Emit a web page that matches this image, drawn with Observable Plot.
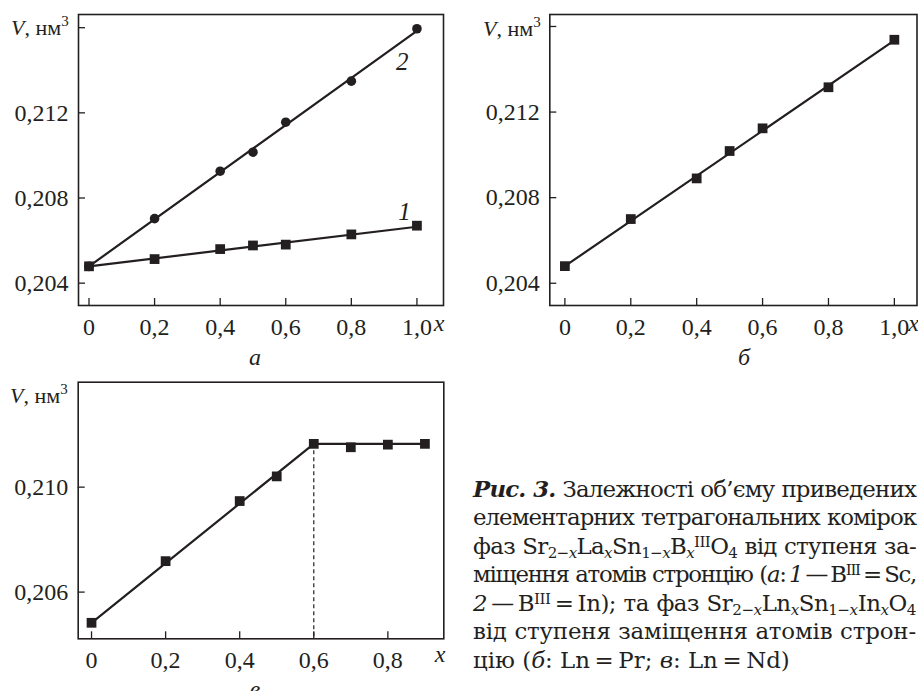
<!DOCTYPE html>
<html><head><meta charset="utf-8">
<script src="https://cdn.jsdelivr.net/npm/d3@7"></script>
<script src="https://cdn.jsdelivr.net/npm/@observablehq/plot@0.6"></script>
<style>
body{margin:0;background:#fff;}
#root{position:relative;width:918px;height:691px;overflow:hidden;font-family:"Liberation Serif",serif;color:#231f20;}
#root svg, #root svg text{font-family:"Liberation Serif",serif !important;}
.panel{position:absolute;}
.lbl{position:absolute;font-size:22px;white-space:nowrap;line-height:22px;}
.lbl sup{font-size:15px;line-height:0;vertical-align:0;position:relative;top:-9px;}
.plet{position:absolute;font-size:24px;font-style:italic;line-height:24px;transform:translateX(-50%);}
.xl{position:absolute;font-size:24px;font-style:italic;line-height:24px;transform:translateX(-50%);}
#cap{position:absolute;left:473px;width:443px;font-family:"DejaVu Serif",serif;line-height:28.55px;}
#cap div{white-space:nowrap;}
#cap.just div{text-align:justify;text-align-last:justify;}
#cap.just div.last{text-align-last:left;}
#cap sub,#cap sup{font-size:0.66em;line-height:0;position:relative;vertical-align:0;}
#cap sub{top:0.28em;}
#cap sup{top:-0.45em;}
</style></head>
<body><div id="root"></div>
<script>
// ---- data: panel а ----
const xA = [0, 0.2, 0.4, 0.5, 0.6, 0.8, 1.0];
const vA1 = [0.20479, 0.20513, 0.20560, 0.20577, 0.20581, 0.20629, 0.20670];
const vA2 = [0.20479, 0.20703, 0.20926, 0.21015, 0.21156, 0.21349, 0.21595];
const fitXA = [0, 1.0];
const fitA1 = [0.20479, 0.20665];
const fitA2 = [0.20479, 0.21585];
const curveLabels = ["1", "2"];
const curveLabelX = [0.962, 0.955];
const curveLabelV = [0.20732, 0.21437];
// ---- data: panel б ----
const xB = [0, 0.2, 0.4, 0.5, 0.6, 0.8, 1.0];
const vB = [0.20480, 0.20700, 0.20890, 0.21018, 0.21124, 0.21316, 0.21538];
const fitXB = [0, 1.0];
const fitB = [0.20480, 0.21535];
// ---- data: panel в ----
const xC = [0, 0.2, 0.4, 0.5, 0.6, 0.7, 0.8, 0.9];
const vC = [0.20483, 0.20718, 0.20947, 0.21041, 0.21165, 0.21152, 0.21162, 0.21165];
const fitXC = [0, 0.6, 0.9];
const fitC = [0.20483, 0.21165, 0.21165];
const breakX = [0.6];
const breakV = [0.21165];
// ---- ticks ----
const xTicksAB = [0, 0.2, 0.4, 0.6, 0.8, 1.0];
const xTicksC = [0, 0.2, 0.4, 0.6, 0.8];
const yTickMarksAB = [0.204, 0.208, 0.212, 0.216];
const yTickLabelsAB = [0.204, 0.208, 0.212];
const yTicksC = [0.206, 0.210];

const INK = "#231f20";
const FONT = "Liberation Serif";
const fmtX = d => d === 0 ? "0" : d.toFixed(1).replace(".", ",");
const fmtY = d => d.toFixed(3).replace(".", ",");
const pts = (xs, vs) => xs.map((x, i) => ({x, v: vs[i]}));

function panel({width, height, mt, mr, mb, ml, xDom, yDom, xTicks, yMarks, yLabels, marks}) {
  const fw = width - ml - mr, fh = height - mt - mb;
  return Plot.plot({
    width, height, marginTop: mt, marginRight: mr, marginBottom: mb, marginLeft: ml,
    x: {domain: xDom, label: null}, y: {domain: yDom, label: null},
    style: {fontFamily: FONT, fontSize: "24px", color: INK, background: "transparent", overflow: "visible"},
    marks: [
      Plot.tickY(yMarks, {y: d => d, stroke: INK, strokeWidth: 1.3, insetRight: fw - 7}),
      Plot.tickX(xTicks, {x: d => d, stroke: INK, strokeWidth: 1.3, insetTop: fh - 7}),
      Plot.axisY({ticks: yLabels, tickSize: 0, tickPadding: 10, tickFormat: fmtY, fontSize: 24, fontFamily: FONT, label: null}),
      Plot.axisX({ticks: xTicks, tickSize: 0, tickPadding: 12, tickFormat: fmtX, fontSize: 24, fontFamily: FONT, label: null}),
      ...marks,
      Plot.frame({stroke: INK, strokeWidth: 1.6})
    ]
  });
}

const root = document.getElementById("root");
function place(svg, left, top) {
  svg.classList.add("panel");
  svg.style.left = left + "px";
  svg.style.top = top + "px";
  root.appendChild(svg);
}

// panel а
place(panel({
  width: 460, height: 370, mt: 14, mr: 17, mb: 65, ml: 78,
  xDom: [-0.032, 1.081], yDom: [0.20295, 0.21662],
  xTicks: xTicksAB, yMarks: yTickMarksAB, yLabels: yTickLabelsAB,
  marks: [
    Plot.line(pts(fitXA, fitA1), {x: "x", y: "v", stroke: INK, strokeWidth: 2.2}),
    Plot.line(pts(fitXA, fitA2), {x: "x", y: "v", stroke: INK, strokeWidth: 2.2}),
    Plot.dot(pts(xA, vA1), {x: "x", y: "v", symbol: "square", r: 5.5, fill: INK, stroke: "none"}),
    Plot.dot(pts(xA, vA2), {x: "x", y: "v", symbol: "circle", r: 4.8, fill: INK, stroke: "none"}),
    Plot.text(curveLabels.map((t, i) => ({t, x: curveLabelX[i], v: curveLabelV[i]})),
      {x: "x", y: "v", text: "t", fontStyle: "italic", fontSize: 25, fontFamily: FONT, fill: INK})
  ]
}), 0, 0);

// panel б
place(panel({
  width: 458, height: 370, mt: 14, mr: 1.5, mb: 65, ml: 89.3,
  xDom: [-0.0458, 1.0687], yDom: [0.20296, 0.21656],
  xTicks: xTicksAB, yMarks: yTickMarksAB, yLabels: yTickLabelsAB,
  marks: [
    Plot.line(pts(fitXB, fitB), {x: "x", y: "v", stroke: INK, strokeWidth: 2.2}),
    Plot.dot(pts(xB, vB), {x: "x", y: "v", symbol: "square", r: 5.5, fill: INK, stroke: "none"})
  ]
}), 460, 0);

// panel в
place(panel({
  width: 460, height: 321, mt: 11.7, mr: 16.7, mb: 52.7, ml: 77.7,
  xDom: [-0.036, 0.951], yDom: [0.20422, 0.214],
  xTicks: xTicksC, yMarks: yTicksC, yLabels: yTicksC,
  marks: [
    Plot.ruleX(pts(breakX, breakV), {x: "x", y1: "v", y2: () => 0.20422, stroke: INK, strokeWidth: 1.2, strokeDasharray: "4,3"}),
    Plot.line(pts(fitXC, fitC), {x: "x", y: "v", stroke: INK, strokeWidth: 2.2}),
    Plot.dot(pts(xC, vC), {x: "x", y: "v", symbol: "square", r: 5.5, fill: INK, stroke: "none"})
  ]
}), 0, 370);

// labels (HTML text)
function addHTML(cls, html, left, top) {
  const d = document.createElement("div");
  d.className = cls; d.innerHTML = html;
  d.style.left = left + "px"; d.style.top = top + "px";
  root.appendChild(d);
}
const vLabel = "<i>V</i>, нм<sup>3</sup>";
addHTML("lbl", vLabel, 11, 17);
addHTML("lbl", vLabel, 483, 18);
addHTML("lbl", vLabel, 10, 385);
addHTML("xl", "x", 439, 311);
addHTML("xl", "x", 913.5, 311);
addHTML("xl", "x", 440, 642);
addHTML("plet", "а", 255, 345);
addHTML("plet", "б", 744, 345);
addHTML("plet", "в", 255, 677);

// caption
const T = "\u2009"; // thin space
const capLines = [
  "<b><i>Рис. 3.</i></b> Залежності об’єму приведених",
  "елементарних тетрагональних комірок",
  "фаз Sr<sub>2−<i>x</i></sub>La<sub><i>x</i></sub>Sn<sub>1−<i>x</i></sub>B<sub><i>x</i></sub><sup>III</sup>O<sub>4</sub> від ступеня за-",
  `міщення атомів стронцію (<i>а</i>:${T}<i>1</i>${T}—${T}B<sup>III</sup>${T}=${T}Sc,`,
  `<i>2</i>${T}—${T}B<sup>III</sup>${T}=${T}In); та фаз Sr<sub>2−<i>x</i></sub>Ln<sub><i>x</i></sub>Sn<sub>1−<i>x</i></sub>In<sub><i>x</i></sub>O<sub>4</sub>`,
  "від ступеня заміщення атомів строн-",
  `цію (<i>б</i>: Ln${T}=${T}Pr; <i>в</i>: Ln${T}=${T}Nd)`
];
const cap = document.createElement("div");
cap.id = "cap";
root.appendChild(cap);
const spans = capLines.map((h, i) => {
  const d = document.createElement("div");
  if (i === capLines.length - 1) d.className = "last";
  const s = document.createElement("span");
  s.innerHTML = h;
  d.appendChild(s);
  cap.appendChild(d);
  return s;
});
const BASE = 20;
cap.style.fontSize = BASE + "px";
const widths = spans.map(s => s.getBoundingClientRect().width);
const fs = BASE * 317 / widths[widths.length - 1];
cap.style.fontSize = fs + "px";
const LIMIT = 441;
spans.forEach((s, i) => {
  if (i === spans.length - 1) return;
  const w = s.getBoundingClientRect().width;
  if (w > LIMIT) {
    const n = s.textContent.length;
    s.parentNode.style.letterSpacing = ((LIMIT - w) / n) + "px";
  }
});
const LH = 28.55;
const baseOff = (LH - 1.164 * fs) / 2 + 0.928 * fs;
cap.style.top = (496.7 - baseOff) + "px";
cap.classList.add("just");
</script>
</body></html>
